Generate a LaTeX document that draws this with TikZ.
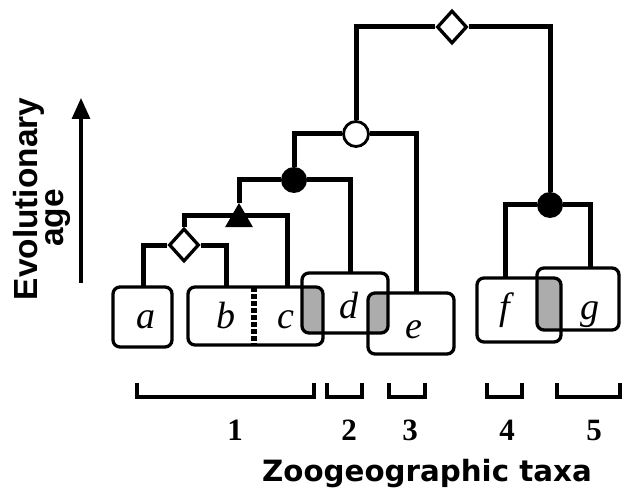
\documentclass[tikz,border=0pt]{standalone}
\usepackage{fontspec}
\setmainfont{Liberation Serif}
\newfontfamily\lsans{Liberation Sans}
\newfontfamily\dvsans{DejaVu Sans}
\usetikzlibrary{shapes.geometric,arrows.meta,backgrounds}
\begin{document}
\begin{tikzpicture}[x=1bp,y=-1bp,
 tree/.style={line width=5bp},
 box/.style={draw,line width=3.3bp,rounded corners=7bp,inner sep=0,outer sep=0},
 lab/.style={font=\fontsize{38bp}{44bp}\selectfont\itshape,inner sep=0,anchor=base},
 num/.style={font=\fontsize{31bp}{36bp}\selectfont\bfseries,inner sep=0,anchor=base},
 dia/.style={diamond,draw,fill=white,line width=3.3bp,minimum width=30bp,minimum height=33bp,inner sep=0},
 bdot/.style={circle,fill=black,minimum size=26bp,inner sep=0},
 wdot/.style={circle,draw,fill=white,line width=2.8bp,minimum size=25bp,inner sep=0},
 tri/.style={regular polygon,regular polygon sides=3,fill=black,minimum size=32bp,inner sep=0},
 brk/.style={line width=4.5bp},
 sharedc/.style={fill=gray!65},
 side/.style={rotate=90,anchor=base,inner sep=0,font=\lsans\bfseries\fontsize{33.4bp}{38bp}\selectfont}]
\useasboundingbox (0,0) rectangle (626,490);

% boxes
\node[box,minimum width=59bp,minimum height=60bp] (A) at (142.5,317) {};
\node[box,minimum width=135bp,minimum height=58bp] (BC) at (255.5,316) {};
\node[box,minimum width=86bp,minimum height=60bp] (D) at (345,303) {};
\node[box,minimum width=86bp,minimum height=61bp] (E) at (411,323.5) {};
\node[box,minimum width=84bp,minimum height=64bp] (F) at (519,310) {};
\node[box,minimum width=82bp,minimum height=62bp] (G) at (578,299) {};

% divider between b and c
\draw[line width=6.5bp,dash pattern=on 4.5bp off 2.5bp] (254,287) -- (254,345);

% labels
\node[lab] (la) at (146,328) {a};
\node[lab] (lb) at (226,328) {b};
\node[lab] (lc) at (286,328) {c};
\node[lab] (ld) at (349,318) {d};
\node[lab] (le) at (414,338) {e};
\node[lab] (lf) at (505,319) {f};
\node[lab] (lg) at (590,319) {g};

% junctions
\node[dia] (J1) at (184,245) {};
\coordinate (J2) at (239,216);
\node[tri] (T) at (239,219) {};
\node[bdot] (J3) at (294,180) {};
\node[wdot] (J4) at (356,134) {};
\node[dia] (J5) at (452,27) {};
\node[bdot] (J6) at (550,205) {};

% tips
\coordinate (aT) at (143,287);
\coordinate (bT) at (226,287);
\coordinate (cT) at (287,287);
\coordinate (dT) at (350,273);
\coordinate (eT) at (416,293);
\coordinate (fT) at (505,278);
\coordinate (gT) at (590,268);

\begin{scope}[on background layer]
 \begin{scope}
  \clip[rounded corners=7bp] (BC.north west) rectangle (BC.south east);
  \fill[sharedc,rounded corners=7bp] (D.north west) rectangle (D.south east);
 \end{scope}
 \begin{scope}
  \clip[rounded corners=7bp] (D.north west) rectangle (D.south east);
  \fill[sharedc,rounded corners=7bp] (E.north west) rectangle (E.south east);
 \end{scope}
 \begin{scope}
  \clip[rounded corners=7bp] (F.north west) rectangle (F.south east);
  \fill[sharedc,rounded corners=7bp] (G.north west) rectangle (G.south east);
 \end{scope}
 \draw[tree] (aT) |- (J1) -| (bT);
 \draw[tree] (J1) |- (J2) -| (cT);
 \draw[tree] (T) |- (J3) -| (dT);
 \draw[tree] (J3) |- (J4) -| (eT);
 \draw[tree] (J4) |- (J5) -| (J6);
 \draw[tree] (fT) |- (J6) -| (gT);
\end{scope}

% axis arrow and text
\coordinate (arB) at (81,283);
\coordinate (arT) at (81,98);
\draw[line width=3.2bp,-{Triangle[width=18bp,length=21bp]}] (arB) -- (arT);
\node[side] (ev) at (37,199) {Evolutionary};
\node[side] (ag) at (63,218) {age};

% brackets
\draw[brk] (137,383) -- (137,397) -- (314,397) -- (314,383);
\draw[brk] (327,383) -- (327,397) -- (362,397) -- (362,383);
\draw[brk] (389,383) -- (389,397) -- (425,397) -- (425,383);
\draw[brk] (487,383) -- (487,397) -- (522,397) -- (522,383);
\draw[brk] (557,383) -- (557,397) -- (620,397) -- (620,383);

\node[num] (n1) at (235,440) {1};
\node[num] (n2) at (349,440) {2};
\node[num] (n3) at (410,440) {3};
\node[num] (n4) at (507,440) {4};
\node[num] (n5) at (594,440) {5};

\node[anchor=base,inner sep=0,font=\dvsans\bfseries\fontsize{29.3bp}{34bp}\selectfont] (zt) at (427,481) {Zoogeographic taxa};
\end{tikzpicture}
\end{document}
